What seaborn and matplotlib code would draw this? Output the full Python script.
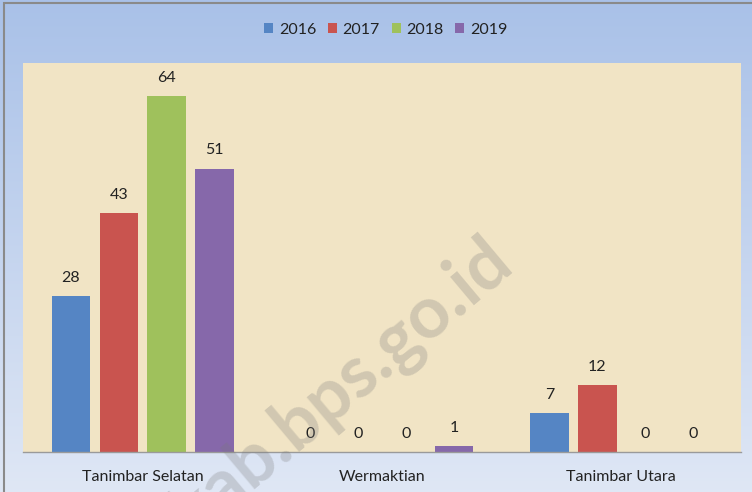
import numpy as np
import pandas as pd
import seaborn as sns
import matplotlib.pyplot as plt
from matplotlib.patches import Rectangle

kecamatan = ["Tanimbar Selatan", "Wermaktian", "Tanimbar Utara"]
tahun = ["2016", "2017", "2018", "2019"]
nilai_2016 = [28, 0, 7]
nilai_2017 = [43, 0, 12]
nilai_2018 = [64, 0, 0]
nilai_2019 = [51, 1, 0]
warna = ["#5585c4", "#c9544f", "#9fc15c", "#8668aa"]

df = pd.DataFrame({
    "Kecamatan": kecamatan * 4,
    "Tahun": [t for t in tahun for _ in kecamatan],
    "Nilai": nilai_2016 + nilai_2017 + nilai_2018 + nilai_2019,
})

sns.set_theme(style="white")
plt.rcParams["font.family"] = ["Lato", "DejaVu Sans"]

fig = plt.figure(figsize=(7.52, 4.92), dpi=100)

# background gradient (blue at top, lighter at bottom)
bg = fig.add_axes([0, 0, 1, 1], zorder=0)
grad = np.linspace(0, 1, 256).reshape(-1, 1)
top = np.array([0.663, 0.757, 0.910])
bot = np.array([0.875, 0.906, 0.961])
img = top + (bot - top) * grad[:, :, None]
bg.imshow(img, aspect="auto", extent=[0, 1, 0, 1])
bg.set_xlim(0, 1)
bg.set_ylim(0, 1)
bg.axis("off")
bg.add_patch(Rectangle((0.005, -0.1), 1.2, 1.094, fill=False,
                       edgecolor="#8a8a8a", lw=1.5))

ax = fig.add_axes([0.0306, 0.0813, 0.9548, 0.7907], zorder=1)
ax.set_facecolor("#f1e4c5")
sns.barplot(data=df, x="Kecamatan", y="Nilai", hue="Tahun", palette=warna,
            width=0.8, gap=0.2, ax=ax, saturation=1, linewidth=0)

for c in ax.containers:
    ax.bar_label(c, padding=8, fontsize=11.5, color="#222222")

ax.set_ylim(0, 70)
ax.set_yticks([])
ax.set_xlabel("")
ax.set_ylabel("")
ax.tick_params(axis="x", length=0, pad=13, labelsize=11.5, labelcolor="#222222")
for s in ["top", "left", "right"]:
    ax.spines[s].set_visible(False)
ax.spines["bottom"].set_color("#9a9a9a")
ax.spines["bottom"].set_linewidth(1)

h, l = ax.get_legend_handles_labels()
ax.get_legend().remove()
fig.legend(h, l, loc="center", bbox_to_anchor=(0.513, 0.939), ncol=4,
           frameon=False, fontsize=11.5, handlelength=0.55, handleheight=0.6,
           handletextpad=0.35, columnspacing=0.75, labelcolor="#222222")

# watermark
fig.text(0.668, 0.49, "mtbkab.bps.go.id", fontsize=52, fontweight="bold",
         color="#7a7a7a", alpha=0.27, rotation=40, ha="right", va="center",
         rotation_mode="anchor", zorder=5)

fig.savefig("out.png", dpi=100)
